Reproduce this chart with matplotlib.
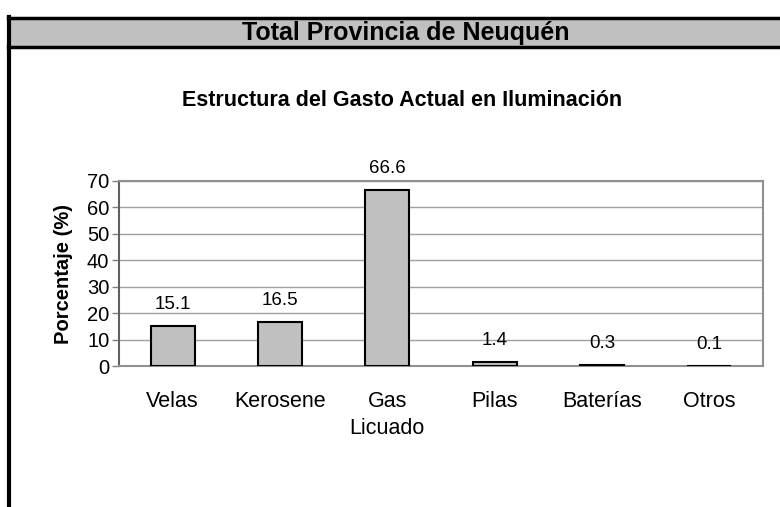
import matplotlib.pyplot as plt
from matplotlib.patches import Rectangle
from matplotlib.lines import Line2D

categorias = ["Velas", "Kerosene", "Gas\nLicuado", "Pilas", "Baterías", "Otros"]
porcentajes = [15.1, 16.5, 66.6, 1.4, 0.3, 0.1]
yticks = [0, 10, 20, 30, 40, 50, 60, 70]

plt.rcParams['font.family'] = ['Liberation Sans', 'DejaVu Sans']

W, H = 780, 507
fig = plt.figure(figsize=(W / 100, H / 100), dpi=100)

# marco exterior y banda de título
fig.patches.append(Rectangle((8 / W, 1 - 47 / H), 1, 29 / H, transform=fig.transFigure,
                             facecolor='#c0c0c0', edgecolor='none'))
fig.lines.append(Line2D([8 / W, 1], [1 - 18 / H] * 2, color='black', lw=2.5, transform=fig.transFigure))
fig.lines.append(Line2D([8 / W, 1], [1 - 47 / H] * 2, color='black', lw=2.5, transform=fig.transFigure))
fig.lines.append(Line2D([9 / W] * 2, [0, 1 - 17 / H], color='black', lw=3, transform=fig.transFigure))
fig.text(406 / W, 1 - 33 / H, "Total Provincia de Neuquén", ha='center', va='center',
         fontsize=18, fontweight='bold')
fig.text(402 / W, 1 - 100 / H, "Estructura del Gasto Actual en Iluminación", ha='center',
         va='center', fontsize=15.5, fontweight='bold')

ax = fig.add_axes([119 / W, 1 - 366 / H, (763 - 119) / W, (366 - 181) / H])
x = list(range(len(categorias)))
bars = ax.bar(x, porcentajes, width=0.41, color='#c0c0c0', edgecolor='black', linewidth=1.5, zorder=3)
for xi, v in zip(x, porcentajes):
    ax.text(xi, v + 5, f"{v}", ha='center', va='bottom', fontsize=13.5)

ax.set_xlim(-0.5, len(categorias) - 0.5)
ax.set_ylim(0, 70)
ax.set_yticks(yticks)
ax.set_yticklabels([str(t) for t in yticks], fontsize=14.5)
ax.set_xticks(x)
ax.set_xticklabels(categorias, fontsize=15.5, linespacing=1.4)
ax.tick_params(axis='x', length=0, pad=18)
ax.tick_params(axis='y', length=5, width=1, color='#808080', pad=2)
ax.grid(axis='y', color='#a0a0a0', lw=1, zorder=0)
for s in ax.spines.values():
    s.set_color('#909090')
    s.set_linewidth(1.5)
ax.spines['left'].set_color('#606060')
ax.set_ylabel("Porcentaje (%)", fontsize=14.5, fontweight='bold', labelpad=10)

fig.savefig("out.png", dpi=100)
